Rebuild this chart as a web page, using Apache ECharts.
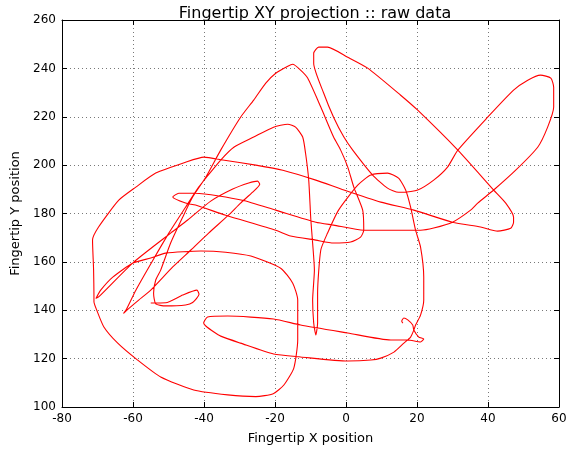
<!DOCTYPE html>
<html>
<head>
<meta charset="utf-8">
<script src="https://cdn.jsdelivr.net/npm/echarts@6/dist/echarts.min.js"></script>
<style>
  html, body { margin: 0; padding: 0; background: #fff; }
  #chart { width: 570px; height: 451px; }
</style>
</head>
<body>
<div id="chart"></div>
<script>
// fingertip path in pieces (x, y)
var startLoopAndUpperStrands = [
  [-55,143],[-50.8,143.1],[-46,146.3],[-42,148.3],[-41.4,146.6],[-43.2,143.2],[-45.2,142.2],[-50.8,141.8],
  [-53.6,142.6],[-54.2,147],[-53.6,152.5],[-52.2,156.6],[-49.4,167.8],[-46,178.5],[-43.2,186.8],[-39.5,195],
  [-35.3,206.2],[-29.7,219.8],[-26,226.9],[-22.6,233.9],[-19.8,238],[-16.4,240.9],[-15,241.7],[-12.8,239.3],
  [-10.8,236],[-7.1,224],[-3.5,211.6],[-1.5,206.2],[0.5,199.2],[2.2,190.9],[4.7,181.4],[5,173.1],[4.1,170.2],
  [1.3,168.2],[-3.5,167.8],[-8.5,169],[-15.6,170.7],[-19.8,173.1],[-33.9,179.3],[-42.4,183.5],[-45.2,184.3],
  [-48.8,186.8],[-47.1,188.4],[-42.4,188.4],[-29.2,185.5],[-19.8,181.4],[-8.5,176.4],[-3.5,175.2],[5,173.1],
  [21,173.1],[24.7,174],[30,176.4],[35.1,181.4],[37.1,184.3],[41.6,189.7],[47.8,197.9],[54,207.4],[56.8,215.7],
  [58.5,224],[58.5,232.2],[57.7,236],[54.8,237.2],[51.2,235.1],[47.2,231],[39.9,219.8],[31.5,206.2],[28.6,199.2],
  [24.7,193.8],[20.2,189.7],[16.3,188.8],[14.8,188.8],[11.7,190.5],[7.5,195.9],[1.9,206.2],[-0.6,211.6],
  [-3.5,219.8],[-6.3,229.8],[-9.1,242.1],[-9.1,246.3],[-7.7,248.8],[-5.2,248.8],[0.5,244.6],[6.1,240.1],
  [15.4,228.9],[20.2,222.7],[31.5,206.2],[41.6,189.7],[45,184.3],[47.2,178.5],[47.2,176.4],[46.4,173.9],
  [42.7,172.7],[37.9,174.4],[30,176.4],[19.1,181.4],[9.8,184.7],[-0.6,189.7],[-8.5,193.8],[-17.8,197.9],
  [-25.4,200],[-34.7,202.1],[-40,203.3],[-45.2,201.2],[-53.6,196.7],[-59.2,190.9],[-64,185.5],[-69.7,174.4],
  [-71.4,169],[-71.1,156.6],[-71,146],[-71,143.5]
];
var lowerLoopsToEnd = [
  [-70.2,140],[-68.2,133.1],[-64.3,126.4],[-58.7,119.4],[-52.2,112.4],[-42.9,107],[-33.3,105],[-25.4,104.3],
  [-20.5,105.5],[-17.5,109.1],[-14.7,116.1],[-13.6,127.7],[-13.6,144.2],[-15,151.2],[-18.4,157.4],[-26.8,162.4],
  [-33.9,164],[-40.9,164.5],[-50.8,163.6],[-55,161.6],[-60,159.5],[-65.7,153.7],[-69.1,148.3],[-70.4,145],
  [-69.6,145.6],[-59.8,159.9],[-49.4,171.9],[-44.6,177.3],[-38.1,185.1],[-31.9,190.1],[-27.4,192.6],[-24.9,193.4],
  [-24.3,192.1],[-26.3,188.8],[-29.7,184.3],[-33.1,179.3],[-38.7,171.9],[-43.7,164.9],[-48.8,157.9],[-55,148.3],
  [-58.4,144.2],[-62,139.7],[-62.6,138.8],[-61.8,140.5],[-59.2,148.3],[-54.4,160.7],[-49.9,171.9],[-45.2,182.6],
  [-41.5,190.9],[-39.5,194.6],[-35.3,202.1],[-31.6,207.4],[-26,211.6],[-20.4,215.7],[-16.4,216.9],[-14.2,215.7],
  [-12.2,211.6],[-11.4,205],[-10.5,193.8],[-9.9,177.3],[-9.4,167.8],[-8.9,156.6],[-9.4,144.2],[-9.1,134.7],
  [-8.5,129.8],[-8,134.7],[-8,147.1],[-7.1,164.9],[-5.2,171.9],[-2.1,181.4],[3.3,191.7],[7,195.9],[11.7,196.7],
  [14.8,194.6],[16.8,189.7],[18.2,182.6],[19.6,173.1],[21,166.1],[21.9,153.7],[21.9,144.2],[21,138],[19.6,133.9],
  [19.1,131.8],[18.2,128.9],[16.3,126.4],[13.5,122.7],[9.8,120.2],[7,119.4],[0.5,119],[-12.8,120.7],[-20.4,121.9],
  [-29.7,126.4],[-35.3,129.3],[-37.2,131],[-39.5,133.5],[-40.1,134.7],[-39,137.2],[-33.3,137.6],[-20.4,136.4],
  [-12.8,133.9],[0.5,130.6],[12.6,127.7],[17.4,127.7],[21,126.9],[21.9,128.1],[20.5,128.9],[19.1,131.8],
  [18.8,133.9],[17.4,136],[16.3,136.8],[15.7,135.5],[16,134.7]
];

var xTicks = [-80, -60, -40, -20, 0, 20, 40, 60];
var yTicks = [100, 120, 140, 160, 180, 200, 220, 240, 260];

var pathData = startLoopAndUpperStrands.concat(lowerLoopsToEnd);

var chart = echarts.init(document.getElementById('chart'));

var gridLine = { show: true, lineStyle: { color: '#555', type: [1, 3], width: 0.8 } };
var boxLine = { show: true, onZero: false, lineStyle: { color: '#000', width: 1 } };
var inTick = { show: true, inside: true, length: 5, lineStyle: { color: '#000' } };

var option = {
  animation: false,
  backgroundColor: '#fff',
  title: {
    text: 'Fingertip XY projection :: raw data',
    left: 310,
    textAlign: 'center',
    top: 1,
    textStyle: { fontFamily: 'DejaVu Sans', fontSize: 16, fontWeight: 'normal', color: '#000' }
  },
  grid: { left: 62, right: 11, top: 20, bottom: 44 },
  xAxis: [{
    type: 'value',
    min: xTicks[0],
    max: xTicks[xTicks.length - 1],
    interval: 20,
    name: 'Fingertip X position',
    nameLocation: 'middle',
    nameGap: 25,
    nameTextStyle: { fontFamily: 'DejaVu Sans', fontSize: 13, color: '#000' },
    axisLine: boxLine,
    axisTick: inTick,
    axisLabel: { fontFamily: 'DejaVu Sans', fontSize: 12, color: '#000', margin: 6 },
    splitLine: gridLine
  }, {
    type: 'value',
    position: 'top',
    min: xTicks[0],
    max: xTicks[xTicks.length - 1],
    interval: 20,
    axisLine: boxLine,
    axisTick: inTick,
    axisLabel: { show: false },
    splitLine: { show: false }
  }],
  yAxis: [{
    type: 'value',
    min: yTicks[0],
    max: yTicks[yTicks.length - 1],
    interval: 20,
    name: 'Fingertip Y position',
    nameLocation: 'middle',
    nameGap: 36,
    nameRotate: 90,
    nameTextStyle: { fontFamily: 'DejaVu Sans', fontSize: 13, color: '#000' },
    axisLine: boxLine,
    axisTick: inTick,
    axisLabel: { fontFamily: 'DejaVu Sans', fontSize: 12, color: '#000', margin: 6 },
    splitLine: gridLine
  }, {
    type: 'value',
    position: 'right',
    min: yTicks[0],
    max: yTicks[yTicks.length - 1],
    interval: 20,
    axisLine: boxLine,
    axisTick: inTick,
    axisLabel: { show: false },
    splitLine: { show: false }
  }],
  series: [{
    type: 'line',
    data: pathData,
    showSymbol: false,
    symbol: 'none',
    smooth: 0.2,
    lineStyle: { color: '#ff0000', width: 1.1, join: 'round' },
    xAxisIndex: 0,
    yAxisIndex: 0
  }]
};

chart.setOption(option);
</script>
</body>
</html>
